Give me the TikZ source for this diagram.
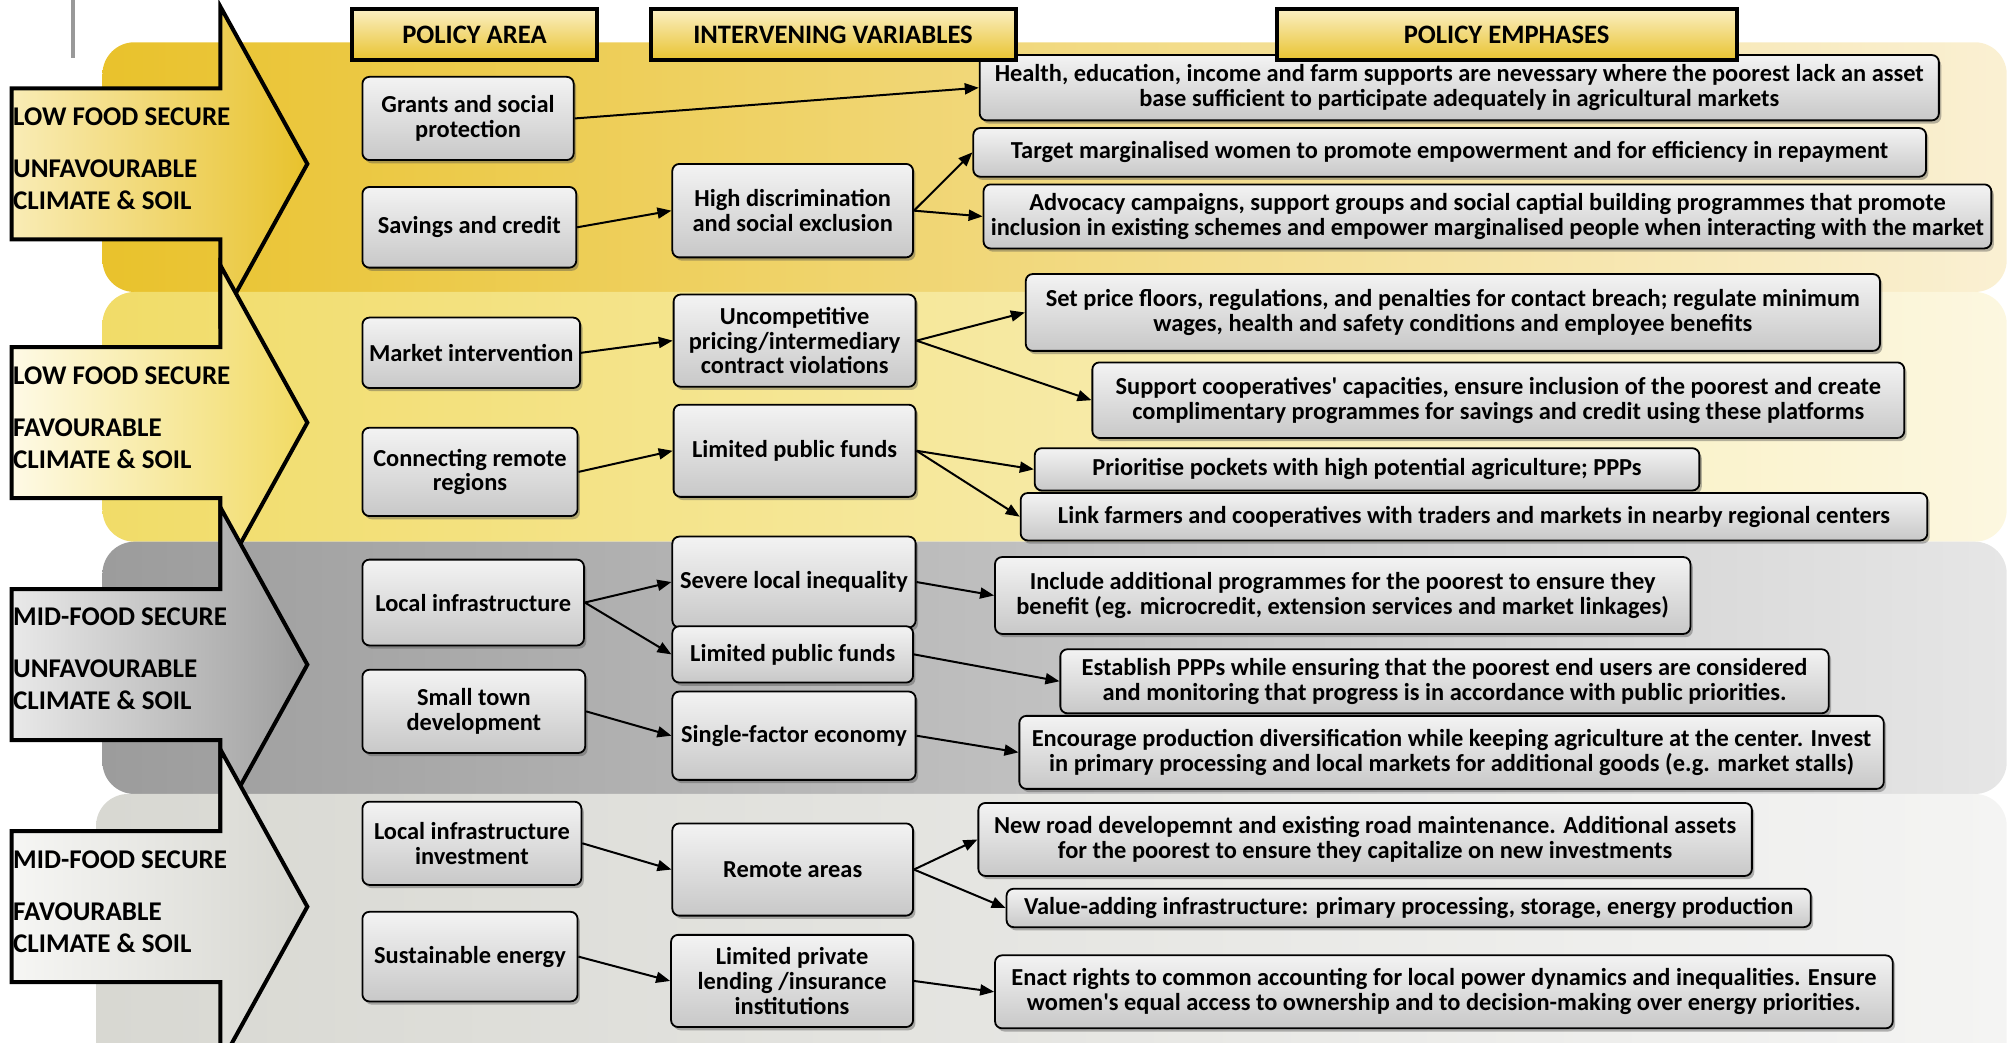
\documentclass[tikz,border=0pt]{standalone}
\usepackage{fontspec}
\setmainfont{Carlito}
\usepackage{tikz}
\usetikzlibrary{arrows.meta,shadows}
\definecolor{bandAl}{HTML}{E9C22C}
\definecolor{bandAr}{HTML}{FAF0D3}
\definecolor{bandBl}{HTML}{F1DC68}
\definecolor{bandBr}{HTML}{FCF7E0}
\definecolor{bandCl}{HTML}{9C9C9C}
\definecolor{bandCr}{HTML}{E6E6E6}
\definecolor{bandDl}{HTML}{D8D8D2}
\definecolor{bandDr}{HTML}{F4F4F3}
\definecolor{arrAl}{HTML}{F9ECB6}
\definecolor{arrAr}{HTML}{E8C22C}
\definecolor{arrBl}{HTML}{FEFAE6}
\definecolor{arrBr}{HTML}{F1DA62}
\definecolor{arrCl}{HTML}{E9E9E9}
\definecolor{arrCr}{HTML}{9D9D9D}
\definecolor{arrDl}{HTML}{F6F6F4}
\definecolor{arrDr}{HTML}{D6D6D0}
\definecolor{boxtop}{HTML}{F3F3F3}
\definecolor{boxbot}{HTML}{C8C8C8}
\definecolor{headtop}{HTML}{FBEFC4}
\definecolor{headbot}{HTML}{E8C32F}

\begin{document}
\begin{tikzpicture}[x=0.64pt, y=-0.64pt,
  font=\fontsize{12.2}{12.4}\selectfont\bfseries, >={Triangle[length=7pt, width=5.5pt]},
  wh/.style 2 args={minimum width=#1*0.64pt, minimum height=#2*0.64pt},
  pbox/.style={draw, line width=0.9pt, rounded corners=3.5pt, top color=boxtop, bottom color=boxbot,
    align=center, inner sep=1pt, drop shadow={shadow xshift=1.2pt, shadow yshift=-1.6pt, opacity=0.4, fill=black!70}},
  hdr/.style={draw, line width=2pt, top color=headtop, bottom color=headbot, inner sep=0pt,
    font=\fontsize{13.3}{14}\selectfont\bfseries},
  zone/.style={anchor=west, align=left, inner sep=0pt, font=\fontsize{13.5}{16}\selectfont\bfseries}]
  \useasboundingbox (0,0) rectangle (1568,814);
  % bands
  \shade[left color=bandAl, right color=bandAr, rounded corners=16pt] (80,33) rectangle (1567,228);
  \shade[left color=bandBl, right color=bandBr, rounded corners=16pt] (80,228) rectangle (1567,423);
  \shade[left color=bandCl, right color=bandCr, rounded corners=16pt] (80,423) rectangle (1567,620);
  \shade[left color=bandDl, right color=bandDr, rounded corners=16pt] (75,620) rectangle (1567,860);
  \draw[black!40, line width=2pt] (57,0) -- (57,45);
  % big arrows
  \foreach \cy/\lc/\rc in {128/arrAl/arrAr, 330/arrBl/arrBr, 519/arrCl/arrCr, 708/arrDl/arrDr}
    \draw[line width=2pt, left color=\lc, right color=\rc]
      (9,\cy-59) -- (172,\cy-59) -- (172,\cy-123) -- (240,\cy) -- (172,\cy+123) -- (172,\cy+59) -- (9,\cy+59) -- cycle;
  \node[zone] (zoneA) at (10,124) {LOW FOOD SECURE\\[10pt]UNFAVOURABLE\\CLIMATE \& SOIL};
  \node[zone] (zoneB) at (10,326.5) {LOW FOOD SECURE\\[10pt]FAVOURABLE\\CLIMATE \& SOIL};
  \node[zone] (zoneC) at (10,514.5) {MID-FOOD SECURE\\[10pt]UNFAVOURABLE\\CLIMATE \& SOIL};
  \node[zone] (zoneD) at (10,704.5) {MID-FOOD SECURE\\[10pt]FAVOURABLE\\CLIMATE \& SOIL};
  % policy areas
  \node[pbox, wh={165}{65}] (grants) at (365.5,92.5) {Grants and social\\protection};
  \node[pbox, wh={167}{63}] (savings) at (366.5,177.5) {Savings and credit};
  \node[pbox, wh={170}{55}] (market) at (368,275.5) {Market intervention};
  \node[pbox, wh={168}{69}] (connect) at (367,368.5) {Connecting remote\\regions};
  \node[pbox, wh={173}{67}] (localinf) at (369.5,470.5) {Local infrastructure};
  \node[pbox, wh={174}{65}] (smalltown) at (370,555.5) {Small town\\development};
  \node[pbox, wh={171}{65}] (localinv) at (368.5,658.5) {Local infrastructure\\investment};
  \node[pbox, wh={168}{70}] (energy) at (367,747) {Sustainable energy};
  % intervening variables
  \node[pbox, wh={188}{73}] (highdisc) at (619,164.5) {High discrimination\\and social exclusion};
  \node[pbox, wh={189}{72}] (uncomp) at (620.5,266) {Uncompetitive\\pricing/intermediary\\contract violations};
  \node[pbox, wh={189}{72}] (fundsA) at (620.5,352) {Limited public funds};
  \node[pbox, wh={190}{71}] (severe) at (620,454.5) {Severe local inequality};
  \node[pbox, wh={188}{44}] (fundsB) at (619,511) {Limited public funds};
  \node[pbox, wh={190}{69}] (single) at (620,574.5) {Single-factor economy};
  \node[pbox, wh={188}{72}] (remote) at (619,679) {Remote areas};
  \node[pbox, wh={189}{72}] (lending) at (618.5,766) {Limited private\\lending /insurance\\institutions};
  % policy emphases
  \node[pbox, wh={749}{51}] (emA) at (1139.5,68.5) {Health, education, income and farm supports are nevessary where the poorest lack an asset\\base sufficient to participate adequately in agricultural markets};
  \node[pbox, wh={744}{38}] (emB) at (1132,119) {Target marginalised women to promote empowerment and for efficiency in repayment};
  \node[pbox, wh={787}{50}] (emC) at (1161.5,169) {Advocacy campaigns, support groups and social captial building programmes that promote\\inclusion in existing schemes and empower marginalised people when interacting with the market};
  \node[pbox, wh={667}{60}] (emD) at (1134.5,244) {Set price floors, regulations, and penalties for contact breach; regulate minimum\\wages, health and safety conditions and employee benefits};
  \node[pbox, wh={634}{59}] (emE) at (1170,312.5) {Support cooperatives\textquotesingle\ capacities, ensure inclusion of the poorest and create\\complimentary programmes for savings and credit using these platforms};
  \node[pbox, wh={519}{33}] (emF) at (1067.5,366.5) {Prioritise pockets with high potential agriculture; PPPs};
  \node[pbox, wh={708}{37}] (emG) at (1151,403.5) {Link farmers and cooperatives with traders and markets in nearby regional centers};
  \node[pbox, wh={543}{60}] (emH) at (1048.5,465) {Include additional programmes for the poorest to ensure they\\benefit (eg. microcredit, extension services and market linkages)};
  \node[pbox, wh={600}{50}] (emI) at (1128,532) {Establish PPPs while ensuring that the poorest end users are considered\\and monitoring that progress is in accordance with public priorities.};
  \node[pbox, wh={675}{57}] (emJ) at (1133.5,587.5) {Encourage production diversification while keeping agriculture at the center. Invest\\in primary processing and local markets for additional goods (e.g. market stalls)};
  \node[pbox, wh={604}{57}] (emK) at (1066,655.5) {New road developemnt and existing road maintenance. Additional assets\\for the poorest to ensure they capitalize on new investments};
  \node[pbox, wh={628}{30}] (emL) at (1100,709) {Value-adding infrastructure: primary processing, storage, energy production};
  \node[pbox, wh={701}{57}] (emM) at (1127.5,774.5) {Enact rights to common accounting for local power dynamics and inequalities. Ensure\\women\textquotesingle s equal access to ownership and to decision-making over energy priorities.};
  % column headers
  \node[hdr, wh={191}{40}] (hArea) at (370.5,27) {POLICY AREA};
  \node[hdr, wh={285}{40}] (hVars) at (650.5,27) {INTERVENING VARIABLES};
  \node[hdr, wh={359}{40}] (hEmph) at (1176.5,27) {POLICY EMPHASES};
  % links
  \foreach \a/\b in {grants/emA, savings/highdisc, highdisc/emB, highdisc/emC, market/uncomp, uncomp/emD, uncomp/emE,
      connect/fundsA, fundsA/emF, fundsA/emG, localinf/severe, localinf/fundsB, severe/emH, fundsB/emI,
      smalltown/single, single/emJ, localinv/remote, remote/emK, remote/emL, energy/lending, lending/emM}
    \draw[->, line width=1pt] (\a.east) -- (\b.west);
\end{tikzpicture}
\end{document}
